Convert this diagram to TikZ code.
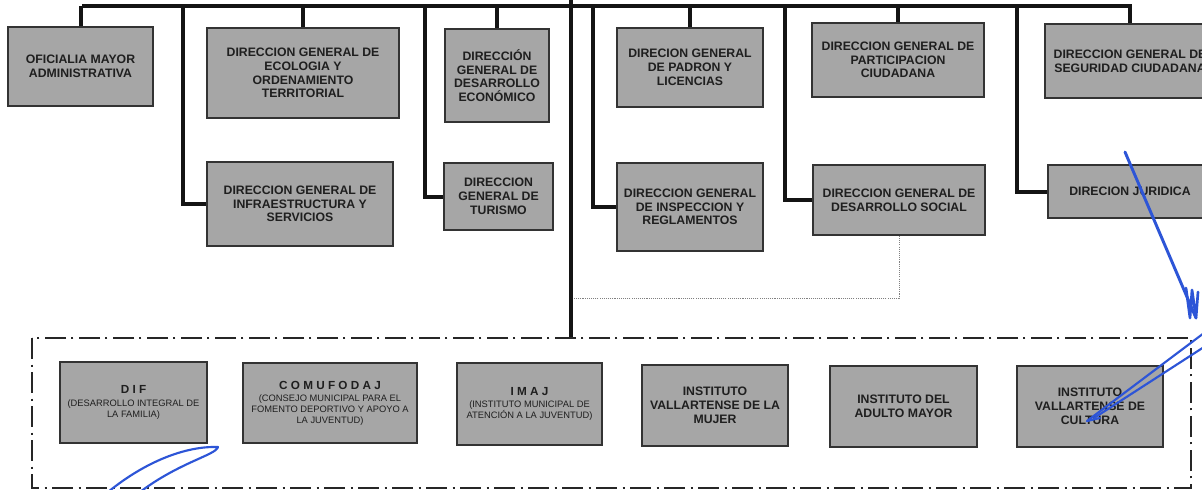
\documentclass[tikz,border=0pt]{standalone}
\usepackage{fontspec}
\setmainfont{Liberation Sans}
\definecolor{penblue}{RGB}{45,85,215}
\definecolor{boxgray}{RGB}{166,166,166}
\newcommand{\orgbox}[6]{\node[box,minimum width=#4*0.75pt,minimum height=#5*0.75pt] (#1) at (#2,#3) {#6};}
\newcommand{\lowbox}[6]{\node[box,lowtext,minimum width=#4*0.75pt,minimum height=#5*0.75pt] (#1) at (#2,#3) {#6};}
\newcommand{\ttl}[1]{{\bfseries\fontsize{8.8}{9}\selectfont #1}}
\begin{document}
\begin{tikzpicture}[x=0.75pt,y=-0.75pt,
  box/.style={draw=black!80, line width=1.3pt, fill=boxgray, text=black!88, align=center,
    font=\bfseries\fontsize{9.2}{10.3}\selectfont, inner sep=0pt},
  lowtext/.style={font=\mdseries\fontsize{7}{8.2}\selectfont},
  conn/.style={line width=3pt, draw=black!92},
  trunk/.style={line width=3.6pt, draw=black!92},
  dotline/.style={line width=0.7pt, draw=gray, dash pattern=on 0.8pt off 0.8pt},
  frame/.style={line width=1.6pt, draw=black!85, dash pattern=on 16pt off 4pt on 1.5pt off 4pt},
  pen/.style={draw=penblue, line width=1.6pt, line cap=round, line join=round}]
\clip (0,0) rectangle (1202,489);
\fill[white] (0,0) rectangle (1202,489);

% top row
\orgbox{ofi}{80.5}{66.5}{145}{79}{OFICIALIA MAYOR\\ADMINISTRATIVA}
\orgbox{eco}{303}{73}{192}{90}{DIRECCION GENERAL DE\\ECOLOGIA Y\\ORDENAMIENTO\\TERRITORIAL}
\orgbox{deseco}{497}{75.5}{104}{93}{DIRECCIÓN\\GENERAL DE\\DESARROLLO\\ECONÓMICO}
\orgbox{pad}{690}{67.5}{146}{79}{DIRECION GENERAL\\DE PADRON Y\\LICENCIAS}
\orgbox{part}{898}{60}{172}{74}{DIRECCION GENERAL DE\\PARTICIPACION\\CIUDADANA}
\orgbox{seg}{1130}{61}{170}{74}{DIRECCION GENERAL DE\\SEGURIDAD CIUDADANA}

% second row
\orgbox{infra}{300}{204}{186}{84}{DIRECCION GENERAL DE\\INFRAESTRUCTURA Y\\SERVICIOS}
\orgbox{tur}{498.5}{196.5}{109}{67}{DIRECCION\\GENERAL DE\\TURISMO}
\orgbox{insp}{690}{207}{146}{88}{DIRECCION GENERAL\\DE INSPECCION Y\\REGLAMENTOS}
\orgbox{desoc}{899}{200}{172}{70}{DIRECCION GENERAL DE\\DESARROLLO SOCIAL}
\orgbox{jur}{1130}{191.5}{164}{53}{DIRECION JURIDICA}

% bottom row
\lowbox{dif}{133.5}{402.5}{147}{81}{\ttl{D I F}\\[1pt](DESARROLLO INTEGRAL DE\\LA FAMILIA)}
\lowbox{comu}{330}{403}{174}{80}{\ttl{C O M U F O D A J}\\[1pt](CONSEJO MUNICIPAL PARA EL\\FOMENTO DEPORTIVO Y APOYO A\\LA JUVENTUD)}
\lowbox{imaj}{529.5}{404}{145}{82}{\ttl{I M A J}\\[1pt](INSTITUTO MUNICIPAL DE\\ATENCIÓN A LA JUVENTUD)}
\orgbox{muj}{715}{405.5}{146}{81}{INSTITUTO\\VALLARTENSE DE LA\\MUJER}
\orgbox{adul}{903.5}{406.5}{147}{81}{INSTITUTO DEL\\ADULTO MAYOR}
\orgbox{cult}{1090}{406.5}{146}{81}{INSTITUTO\\VALLARTENSE DE\\CULTURA}

% bus and trunk
\coordinate (busL) at (82,6);
\coordinate (busR) at (1132,6);
\coordinate (mtop) at (571,0);
\coordinate (mbot) at (571,338);
\draw[conn] (busL) -- (busR);
\draw[trunk] (mtop) -- (mbot);

% drops
\foreach \n in {ofi,eco,deseco,pad,part,seg}
  \draw[conn] (\n.north) -- (\n.north |- busL);

% branches
\coordinate (b1) at (183,6);
\coordinate (b2) at (425,6);
\coordinate (b3) at (593,6);
\coordinate (b4) at (785,6);
\coordinate (b5) at (1017,6);
\draw[conn] (b1) |- (infra.west);
\draw[conn] (b2) |- (tur.west);
\draw[conn] (b3) |- (insp.west);
\draw[conn] (b4) |- (desoc.west);
\draw[conn] (b5) |- (jur.west);

% dotted link
\coordinate (dotj) at (573,298);
\draw[dotline] (desoc.south) |- (dotj);

% dash-dot frame
\draw[frame] (32,338) rectangle (1191,488);

% pen marks
\draw[pen] (108,492) .. controls (150,458) and (190,446) .. (218,447)
  .. controls (216,455) and (180,462) .. (140,492);
\draw[pen, line width=2.2pt] (1125,152) -- (1196,318);
\draw[pen, line width=2pt] (1186,288) -- (1190,318) -- (1192,290) -- (1196,318) -- (1198,292);
\draw[pen] (1204,333) -- (1087,421);
\draw[pen] (1204,347) -- (1094,418);
\draw[pen] (1087,421) -- (1100,418);
\end{tikzpicture}
\end{document}
